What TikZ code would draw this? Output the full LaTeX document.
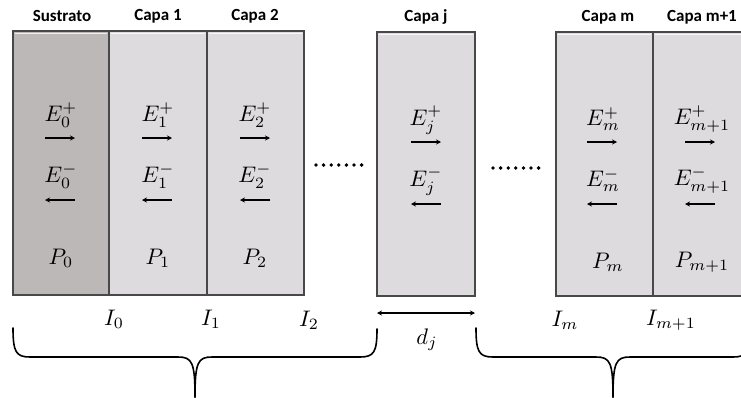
\documentclass[tikz,border=0pt]{standalone}
\usepackage{fontspec}
\setsansfont{Carlito}
\usetikzlibrary{arrows.meta}
\definecolor{subgray}{RGB}{188,184,184}
\definecolor{layergray}{RGB}{221,219,221}
\definecolor{edgegray}{RGB}{72,72,72}
\begin{document}
\begin{tikzpicture}[x=1pt,y=-1pt,
  layerbox/.style={draw=edgegray, line width=1.6pt},
  hilite/.style={draw=white, line width=0.9pt, opacity=0.8},
  hdr/.style={font=\sffamily\bfseries\fontsize{17}{19}\selectfont, inner sep=0pt},
  mlab/.style={font=\normalsize, scale=2.25, inner sep=0pt},
  fwd/.style={-{Stealth[length=5pt,width=5pt]}, line width=1.4pt},
  brc/.style={line width=1.6pt, line cap=round}
]
\useasboundingbox (0,0) rectangle (741,397);
\clip (0,0) rectangle (741,397);

% layer boxes
\draw[layerbox, fill=subgray] (13,31) rectangle (109,295);
\draw[layerbox, fill=layergray] (109,31) rectangle (207,295);
\draw[layerbox, fill=layergray] (207,31) rectangle (304,295);
\draw[layerbox, fill=layergray] (377,32) rectangle (475,296);
\draw[layerbox, fill=layergray] (556,32) rectangle (653,296);
\draw[layerbox, fill=layergray] (653,32) rectangle (748,296);
\foreach \a/\b/\t in {15/107/33.7, 111/205/33.7, 209/302/33.7, 379/473/34.7, 558/651/34.7, 655/746/34.7}
  \draw[hilite] (\a,\t) -- (\b,\t);

% headers
\node[hdr] (hs)  at (62,16)  {Sustrato};
\node[hdr] (h1)  at (158,16) {Capa 1};
\node[hdr] (h2)  at (255,16) {Capa 2};
\node[hdr] (hj)  at (426,17) {Capa j};
\node[hdr] (hm)  at (608,17) {Capa m};
\node[hdr] (hm1) at (702,17) {Capa m+1};

% left group fields
\node[mlab] (e0p) at (61,115)  {$E_0^+$};
\node[mlab] (e1p) at (158,115) {$E_1^+$};
\node[mlab] (e2p) at (255,115) {$E_2^+$};
\node[mlab] (e0m) at (61,176)  {$E_0^-$};
\node[mlab] (e1m) at (158,176) {$E_1^-$};
\node[mlab] (e2m) at (255,176) {$E_2^-$};
\node[mlab] (p0) at (61,258)  {$P_0$};
\node[mlab] (p1) at (158,258) {$P_1$};
\node[mlab] (p2) at (255,258) {$P_2$};
\foreach \c in {60,157,255} {
  \draw[fwd] (\c-15,138) -- (\c+15,138);
  \draw[fwd] (\c+15,200) -- (\c-15,200);
}

% capa j
\node[mlab] (ejp) at (426,120) {$E_j^+$};
\node[mlab] (ejm) at (426,181) {$E_j^-$};
\draw[fwd] (411,142) -- (441,142);
\draw[fwd] (441,204) -- (411,204);

% capa m, m+1
\node[mlab] (emp)  at (603,119) {$E_m^+$};
\node[mlab] (em1p) at (702,119) {$E_{m+1}^+$};
\node[mlab] (emm)  at (603,180) {$E_m^-$};
\node[mlab] (em1m) at (702,180) {$E_{m+1}^-$};
\node[mlab] (pm)  at (608,262) {$P_m$};
\node[mlab] (pm1) at (702,262) {$P_{m+1}$};
\foreach \c in {602,700} {
  \draw[fwd] (\c-15,142) -- (\c+15,142);
  \draw[fwd] (\c+15,204) -- (\c-15,204);
}

% dots
\foreach \k in {0,...,6} {
  \fill (316+7.6*\k,165) circle (1.9);
  \fill (493+7.6*\k,168) circle (1.9);
}

% interface labels
\node[mlab] (i0)  at (114,319) {$I_0$};
\node[mlab] (i1)  at (211,319) {$I_1$};
\node[mlab] (i2)  at (309,320) {$I_2$};
\node[mlab] (im)  at (565,320) {$I_m$};
\node[mlab] (im1) at (671,320) {$I_{m+1}$};

% thickness
\coordinate (dl) at (377,313);
\coordinate (dr) at (475,313);
\draw[{Stealth[length=5pt,width=5pt]}-{Stealth[length=5pt,width=5pt]}, line width=1.4pt] (dl) -- (dr);
\node[mlab] (dj) at (427,340) {$d_j$};

% braces
\coordinate (lbtip) at (195,397);
\coordinate (rbtip) at (613,397);
\draw[brc] (13,328) .. controls (13,352) and (16,357) .. (30,357) -- (178,357) .. controls (192,357) and (195,362) .. (lbtip);
\draw[brc] (377,329) .. controls (377,352) and (374,357) .. (360,357) -- (212,357) .. controls (198,357) and (195,362) .. (lbtip);
\draw[brc] (476,328) .. controls (476,352) and (479,357) .. (493,357) -- (596,357) .. controls (610,357) and (613,362) .. (rbtip);
\draw[brc] (750,328) .. controls (750,352) and (747,357) .. (733,357) -- (630,357) .. controls (616,357) and (613,362) .. (rbtip);
\end{tikzpicture}
\end{document}
